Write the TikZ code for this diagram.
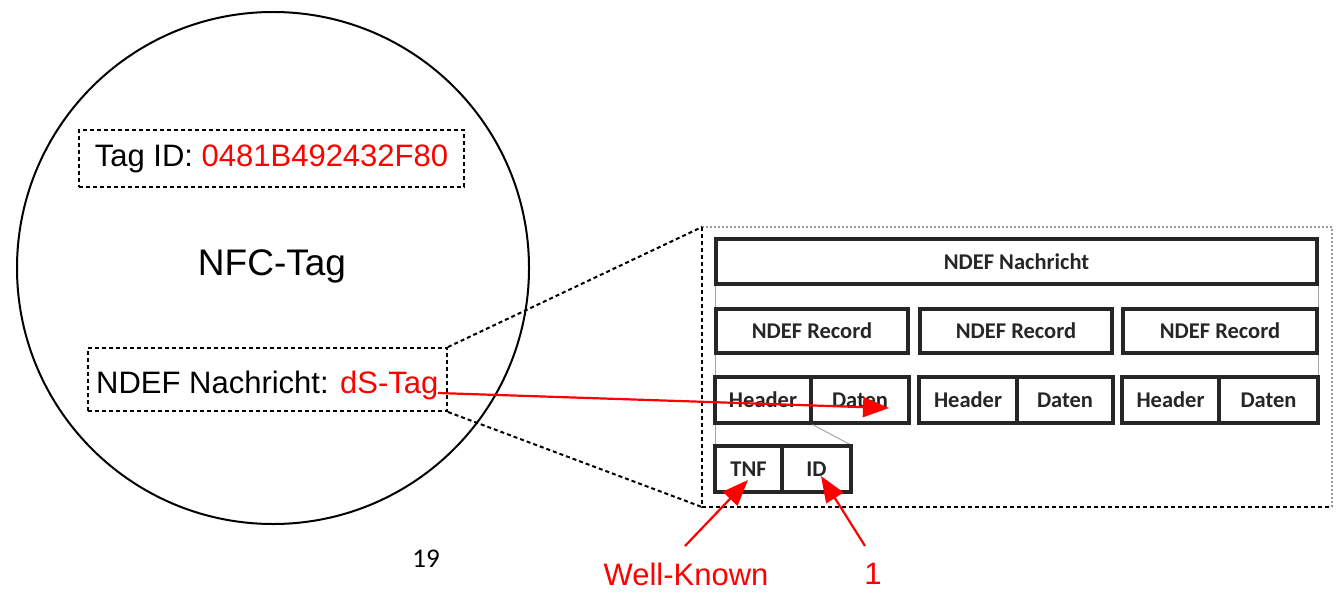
\documentclass[tikz,border=0pt]{standalone}
\usepackage{fontspec}
\setmainfont{Liberation Sans}
\newfontfamily\calfont{Carlito}
\usetikzlibrary{arrows.meta}
\definecolor{arrred}{RGB}{255,0,0}
\begin{document}
\begin{tikzpicture}[x=1pt,y=-1pt,
  bigtext/.style={font=\fontsize{31}{36}\selectfont, inner sep=0pt},
  dashbox/.style={draw=black, line width=2pt, dash pattern=on 4pt off 3pt, inner sep=0pt},
  cell/.style={draw=black!85, line width=3.2pt, inner sep=0pt, font=\calfont\bfseries\fontsize{22.5}{25}\selectfont, text=black!85},
  guide/.style={draw=black!35, line width=1pt},
  redarrow/.style={draw=arrred, line width=2.2pt, -{Triangle[length=26pt,width=20pt]}},
  redtext/.style={text=arrred, font=\fontsize{31}{36}\selectfont, inner sep=0pt}
]
\useasboundingbox (0,0) rectangle (1337,591);

% NFC tag circle
\node[circle, draw=black, line width=2pt, minimum size=512pt, inner sep=0pt] (tag) at (273,268) {};
\node[dashbox, minimum width=385pt, minimum height=57pt] (tagid) at (271.5,158.5) {};
\node[bigtext] (tagidtxt) at (tagid.center) {Tag ID: \textcolor{arrred}{0481B492432F80}};
\node[font=\fontsize{37}{42}\selectfont, inner sep=0pt] (nfc) at (272,266) {NFC-Tag};
\node[dashbox, minimum width=359pt, minimum height=63pt] (ndef) at (267.5,379.5) {};
\node[bigtext, anchor=base west] (ndeftxt) at (96,393) {NDEF Nachricht: \textcolor{arrred}{dS-Tag}};

% zoom frame
\coordinate (zTL) at (702,227);
\coordinate (zTR) at (1332,227);
\coordinate (zBR) at (1332,507);
\coordinate (zBL) at (702,507);
\draw[draw=black!40, line width=1.2pt, dash pattern=on 2pt off 2pt] (zTL) -- (zTR) -- (zBR);
\draw[dashbox] (zTL) -- (zBL) -- (zBR);
\draw[dashbox] (ndef.north east) -- (zTL);
\draw[dashbox] (ndef.south east) -- (zBL);

% guide lines
\coordinate (gl1) at (715,285);
\coordinate (gl2) at (715,445);
\coordinate (gr1) at (1318,285);
\coordinate (gr2) at (1318,376);
\draw[guide] (gl1) -- (gl2);
\draw[guide] (gr1) -- (gr2);

% NDEF structure
\node[cell, minimum width=601pt, minimum height=45pt] (nach) at (1016.5,261.5) {NDEF Nachricht};
\node[cell, minimum width=192pt, minimum height=44pt] (rec1) at (812,331) {NDEF Record};
\node[cell, minimum width=192pt, minimum height=44pt] (rec2) at (1016,331) {NDEF Record};
\node[cell, minimum width=194pt, minimum height=44pt] (rec3) at (1220,331) {NDEF Record};

\node[cell, minimum width=96pt, minimum height=46pt] (hdr1) at (763,400) {Header};
\node[cell, minimum width=98pt, minimum height=46pt] (dat1) at (860,400) {Daten};
\node[cell, minimum width=98pt, minimum height=46pt] (hdr2) at (968,400) {Header};
\node[cell, minimum width=96pt, minimum height=46pt] (dat2) at (1065,400) {Daten};
\node[cell, minimum width=97pt, minimum height=46pt] (hdr3) at (1170.5,400) {Header};
\node[cell, minimum width=99pt, minimum height=46pt] (dat3) at (1268.5,400) {Daten};

\draw[guide] (hdr1.south east) -- (851,445);
\node[cell, minimum width=67pt, minimum height=46pt] (tnf) at (748.5,469) {TNF};
\node[cell, minimum width=69pt, minimum height=46pt] (id) at (816.5,469) {ID};

% labels
\node[font=\calfont\fontsize{27}{30}\selectfont, inner sep=0pt] (pg) at (426,559) {19};
\node[redtext] (wk) at (686,574) {Well-Known};
\node[redtext] (one) at (873,574) {1};

% red arrows
\coordinate (a1s) at (438,393);
\coordinate (a1e) at (889,408);
\draw[redarrow] (a1s) -- (a1e);
\coordinate (a2s) at (685,546);
\coordinate (a2e) at (748,480);
\draw[redarrow] (a2s) -- (a2e);
\coordinate (a3s) at (865,546);
\coordinate (a3e) at (821,476);
\draw[redarrow] (a3s) -- (a3e);
\end{tikzpicture}
\end{document}
